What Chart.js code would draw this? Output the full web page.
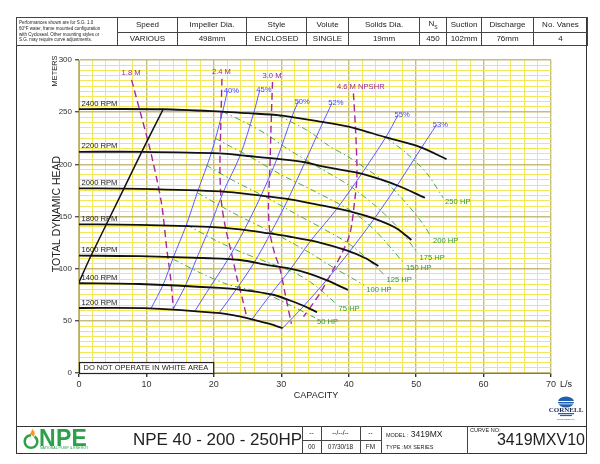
<!DOCTYPE html>
<html><head><meta charset="utf-8">
<script src="https://cdn.jsdelivr.net/npm/chart.js@4.4.1/dist/chart.umd.min.js"></script>
<style>
html,body{margin:0;padding:0;background:#fff;}
body{width:600px;height:464px;position:relative;overflow:hidden;font-family:"Liberation Sans",Arial,sans-serif;color:#222;}
#c{position:absolute;left:0;top:0;}
.abs{position:absolute;}
.frame{left:16px;top:17px;width:571px;height:437px;border:1.5px solid #333;box-sizing:border-box;}
table.hdr{position:absolute;left:16px;top:17px;width:571px;height:28px;border-collapse:collapse;table-layout:fixed;}
table.hdr td{border:1px solid #444;text-align:center;font-size:8px;padding:0;line-height:1;white-space:nowrap;overflow:hidden;}
table.hdr td.note{font-size:4.5px;line-height:5.8px;text-align:left;padding-left:2px;}
.hline{height:0;border-top:1.2px solid #333;}
.vline{width:0;border-left:1px solid #444;}
.t{white-space:nowrap;line-height:1;}
</style>
</head><body>
<canvas id="c" width="600" height="464"></canvas>

<div class="abs frame"></div>
<table class="hdr">
<colgroup><col style="width:101px"><col style="width:60px"><col style="width:69px"><col style="width:60px"><col style="width:42px"><col style="width:71px"><col style="width:27px"><col style="width:35px"><col style="width:52px"><col style="width:54px"></colgroup>
<tr style="height:15px"><td class="note" rowspan="2">Performances shown are for S.G. 1.0<br>60°F water, frame mounted configuration<br>with Cycloseal. Other mounting styles or<br>S.G. may require curve adjustments.</td>
<td>Speed</td><td>Impeller Dia.</td><td>Style</td><td>Volute</td><td>Solids Dia.</td><td>N<sub style="font-size:5px">S</sub></td><td>Suction</td><td>Discharge</td><td>No. Vanes</td></tr>
<tr style="height:13px"><td>VARIOUS</td><td>498mm</td><td>ENCLOSED</td><td>SINGLE</td><td>19mm</td><td>450</td><td>102mm</td><td>76mm</td><td>4</td></tr>
</table>

<!-- footer -->
<div class="abs hline" style="left:16px;top:426px;width:571px;"></div>
<div class="abs vline" style="left:302px;top:426px;height:28px;"></div>
<div class="abs vline" style="left:321px;top:426px;height:28px;"></div>
<div class="abs vline" style="left:360px;top:426px;height:28px;"></div>
<div class="abs vline" style="left:381px;top:426px;height:28px;"></div>
<div class="abs vline" style="left:467px;top:426px;height:28px;"></div>
<div class="abs" style="left:302px;top:440px;width:79px;height:0;border-top:1px solid #444;"></div>

<svg class="abs" style="left:22px;top:428px" width="18" height="22" viewBox="0 0 18 22">
  <path d="M9 6 C4 6 1.5 10 1.5 13.5 C1.5 18 5 21 9 21 C13 21 16.5 18 16.5 13.5 C16.5 11 15 8.5 13 7.3 L12 10 C13.5 11 14 12.5 14 13.8 C14 16.8 11.8 18.6 9 18.6 C6.2 18.6 4 16.6 4 13.6 C4 10.8 6 8.5 9 8.4 Z" fill="#2ca14a"/>
  <path d="M10 1 C13 3 13.5 6 11.5 9 C10.5 7.5 9 6.5 8 6.5 C8.5 4.5 10 3 10 1 Z" fill="#f39a1f"/>
</svg>
<div class="abs t" style="left:39px;top:427px;font-size:23px;font-weight:bold;color:#2ca14a;letter-spacing:0.3px;">NPE</div>
<div class="abs t" style="left:40px;top:447px;font-size:3.6px;color:#2ca14a;">NATIONAL PUMP &amp; ENERGY</div>
<div class="abs t" style="left:130px;top:431px;width:175px;text-align:center;font-size:17px;color:#222;">NPE 40 - 200 - 250HP</div>
<div class="abs t" style="left:302px;top:430px;width:19px;text-align:center;font-size:6.5px;">--</div>
<div class="abs t" style="left:321px;top:430px;width:39px;text-align:center;font-size:6.5px;">--/--/--</div>
<div class="abs t" style="left:360px;top:430px;width:21px;text-align:center;font-size:6.5px;">--</div>
<div class="abs t" style="left:302px;top:444px;width:19px;text-align:center;font-size:6.5px;">00</div>
<div class="abs t" style="left:321px;top:444px;width:39px;text-align:center;font-size:6.5px;">07/30/18</div>
<div class="abs t" style="left:360px;top:444px;width:21px;text-align:center;font-size:6.5px;">FM</div>
<div class="abs t" style="left:386px;top:430px;font-size:8.5px;"><span style="font-size:5.5px">MODEL :</span> 3419MX</div>
<div class="abs t" style="left:386px;top:445px;font-size:5.5px;">TYPE :MX SERIES</div>
<div class="abs t" style="left:470px;top:428px;font-size:5.5px;">CURVE NO:</div>
<div class="abs t" style="left:490px;top:432px;width:95px;text-align:right;font-size:16px;">3419MXV10</div>

<svg class="abs" style="left:546px;top:396px" width="40" height="28" viewBox="0 0 40 28">
  <ellipse cx="20" cy="6" rx="8" ry="5.5" fill="#1f5fae"/>
  <rect x="11" y="5" width="18" height="1" fill="#fff"/>
  <rect x="11" y="7.5" width="18" height="0.8" fill="#fff"/>
  <text x="20" y="15.5" text-anchor="middle" font-family="Liberation Serif, serif" font-weight="bold" font-size="7" fill="#1a2a5a">CORNELL</text>
  <rect x="12" y="17" width="16" height="1.3" fill="#1f5fae"/>
  <rect x="14" y="19" width="12" height="1.1" fill="#1f5fae"/>
  <text x="20" y="24" text-anchor="middle" font-family="Liberation Sans, sans-serif" font-size="2.2" fill="#1a2a5a">PUMP COMPANY</text>
</svg>

<script>
const FONT = '"Liberation Sans", Arial, sans-serif';

// ---- axis ticks ----
const xTickLabels = [0, 10, 20, 30, 40, 50, 60, 70];
const yTickLabels = [0, 50, 100, 150, 200, 250, 300];

// ---- speed (RPM) curves: capacity L/s, head m ----
const rpmNames = ['2400 RPM', '2200 RPM', '2000 RPM', '1800 RPM', '1600 RPM', '1400 RPM', '1200 RPM'];
const q2400 = [0, 12.5, 21.2, 25, 29.8, 35.7, 40.7, 45.4, 50.6, 54.5];
const h2400 = [253, 252.8, 250.5, 249, 247, 241, 235, 226, 216.5, 205];
const q2200 = [0, 9.3, 20.9, 25, 29.8, 33.5, 35.7, 41.2, 44.5, 47.5, 51.3];
const h2200 = [212, 212, 210.5, 208, 205, 202, 198.5, 192, 186, 179, 168];
const q2000 = [0, 9, 21, 27, 31.3, 35.7, 40.7, 43.8, 47, 49.3];
const h2000 = [177, 176.5, 174, 170, 166.5, 161, 154, 148, 139, 127.5];
const q1800 = [0, 9, 19.4, 23.9, 28, 31.3, 35.7, 39.7, 42.5, 44.4];
const h1800 = [142.5, 142, 140, 137.7, 134, 130.6, 125, 117.5, 110, 102.6];
const q1600 = [0, 9, 19.4, 23.9, 28, 31.3, 34, 36.7, 39.9];
const h1600 = [112.5, 112, 110, 108.3, 103.5, 100, 95.5, 89, 79.6];
const q1400 = [0, 9, 20.9, 25, 28.8, 31.3, 33.3, 35.3];
const h1400 = [86, 85.3, 81.5, 79, 75, 69.5, 64.5, 58.2];
const q1200 = [0, 10.5, 20.9, 24, 26.2, 28.3, 30.2];
const h1200 = [62.3, 62, 57.3, 54, 50.5, 47, 43];

// ---- minimum-flow limit line ----
const qLimit = [0, 1.6, 6.6, 9.3, 12.5];
const hLimit = [87, 110, 176, 212, 253];

// ---- efficiency lines ----
const effNames = ['40%', '45%', '50%', '52%', '55%', '53%'];
const qE40 = [10.7, 12.5, 14, 15.9, 17.6, 19.6, 21.3, 22];
const hE40 = [62, 85, 111, 141.5, 174, 210.5, 250.5, 270];
const qE45 = [14, 15.8, 17.4, 19.4, 21.4, 23.9, 25.9, 26.8];
const hE45 = [61.5, 84, 109, 140, 173.5, 208.5, 249, 271];
const qE50 = [17.2, 19.5, 22, 24.5, 27, 29.4, 31.6, 32.5];
const hE50 = [59.5, 83, 108, 137, 170, 206, 246, 260];
const qE52 = [20.8, 23.3, 26, 28.5, 31, 33.5, 36.2, 37.5];
const hE52 = [57.7, 80, 106, 135, 166.5, 202, 240.5, 258.5];
const qE55 = [25.6, 28.5, 31.3, 34.4, 38.2, 41.9, 45.5, 47.3];
const hE55 = [51, 76, 99, 127, 157, 190.8, 226, 247];
const qE53 = [30.2, 33.3, 36.7, 40.2, 43.8, 47, 50.8, 53];
const hE53 = [43, 64, 89, 117, 148, 178, 216, 237.7];

// ---- power lines ----
const hpNames = ['250 HP', '200 HP', '175 HP', '150 HP', '125 HP', '100 HP', '75 HP', '50 HP'];
const qP250 = [45.5, 48.5, 51.5, 54];
const hP250 = [226, 211, 192, 168];
const qP200 = [29.5, 34, 37, 40, 43, 45.5, 48.5, 51, 52.2];
const hP200 = [247, 232, 218, 207, 194, 183, 163, 143, 131];
const qP175 = [21.3, 25, 28, 31, 35.3, 40, 44, 47.5, 50.2];
const hP175 = [250.5, 239, 228, 214.5, 198, 180, 160, 138, 115];
const qP150 = [20.2, 22.5, 25.3, 30, 35, 40.7, 44, 46.5, 48.2];
const hP150 = [225, 217, 207.5, 190, 174, 154, 136, 118, 105];
const qP125 = [18.9, 23, 27.6, 32, 36, 40, 43, 45.3];
const hP125 = [199, 184, 169, 153, 139, 124, 108, 94];
const qP100 = [17.6, 23, 29.2, 34, 38, 40.5, 42.3];
const hP100 = [172.5, 153, 133, 116, 100, 91, 84];
const qP75 = [16, 20, 24, 28, 32, 35, 38.2];
const hP75 = [142, 128, 116, 106, 96, 84, 66];
const qP50 = [14, 18, 22, 27.3, 31, 35];
const hP50 = [109, 96, 85, 76.8, 66, 53];

// ---- NPSHR lines ----
const npshNames = ['1.8 M', '2.4 M', '3.0 M', '4.6 M NPSHR'];
const qN18 = [7.8, 9, 10.4, 11.5, 12.3, 13, 13.6, 14];
const hN18 = [281, 252, 218, 187, 160, 120, 90, 62];
const qN24 = [21.2, 21, 20.9, 21.1, 21.7, 22.5, 23.4, 24.2, 24.9];
const hN24 = [282, 230, 195, 165, 140, 118, 92, 72, 53];
const qN30 = [28.7, 28.5, 28.3, 28.1, 28.3, 29, 29.8, 30.6, 31.5];
const hN30 = [279, 240, 195, 160, 135, 115, 100, 75, 47];
const qN46 = [40.7, 41, 41.2, 41.2, 40.9, 40.2, 39, 37.7, 35.7, 33.3];
const hN46 = [268, 235, 204, 185, 166, 134, 115, 99, 76, 54];

// ---- build datasets ----
const pts = (q, h) => q.map((v, i) => ({ x: v, y: h[i] }));
const base = { showLine: true, pointRadius: 0, pointHoverRadius: 0, fill: false };
const datasets = [];
[[q2400, h2400], [q2200, h2200], [q2000, h2000], [q1800, h1800], [q1600, h1600], [q1400, h1400], [q1200, h1200]]
  .forEach((s, i) => datasets.push({ ...base, kind: 'rpm', name: rpmNames[i], data: pts(s[0], s[1]),
    borderColor: '#111', borderWidth: 1.8, tension: 0.3 }));
datasets.push({ ...base, kind: 'limit', data: pts(qLimit, hLimit), borderColor: '#111', borderWidth: 1.5, tension: 0.15 });
[[qE40, hE40], [qE45, hE45], [qE50, hE50], [qE52, hE52], [qE55, hE55], [qE53, hE53]]
  .forEach((s, i) => datasets.push({ ...base, kind: 'eff', name: effNames[i], data: pts(s[0], s[1]),
    borderColor: '#5a5aff', borderWidth: 1, tension: 0.3 }));
[[qN18, hN18], [qN24, hN24], [qN30, hN30], [qN46, hN46]]
  .forEach((s, i) => datasets.push({ ...base, kind: 'npsh', name: npshNames[i], data: pts(s[0], s[1]),
    borderColor: '#a22aa0', borderWidth: 1.4, borderDash: [7, 4], tension: 0.3 }));
[[qP250, hP250], [qP200, hP200], [qP175, hP175], [qP150, hP150], [qP125, hP125], [qP100, hP100], [qP75, hP75], [qP50, hP50]]
  .forEach((s, i) => datasets.push({ ...base, kind: 'hp', name: hpNames[i], data: pts(s[0], s[1]),
    borderColor: '#4aab4a', borderWidth: 1, borderDash: [6, 3, 1.5, 3], tension: 0.3 }));

const MINOR = '#f3e75a', MAJOR = '#c6bd7c';

const annot = {
  id: 'annot',
  afterDatasetsDraw(chart) {
    const { ctx, scales: { x, y } } = chart;
    ctx.save();
    const bx0 = x.getPixelForValue(0), bx1 = x.getPixelForValue(19.9);
    const by0 = y.getPixelForValue(10.5), by1 = y.getPixelForValue(0);
    ctx.fillStyle = '#fff';
    ctx.fillRect(bx0, by0, bx1 - bx0, by1 - by0);
    ctx.strokeStyle = '#222'; ctx.lineWidth = 1.2;
    ctx.strokeRect(bx0 + 0.5, by0 + 0.5, bx1 - bx0, by1 - by0);
    ctx.fillStyle = '#222';
    ctx.font = '7.5px ' + FONT;
    ctx.textBaseline = 'middle'; ctx.textAlign = 'left';
    ctx.fillText('DO NOT OPERATE IN WHITE AREA', bx0 + 4.5, (by0 + by1) / 2 + 0.5);

    ctx.font = '7.6px ' + FONT;
    chart.data.datasets.forEach(d => {
      const first = d.data[0], last = d.data[d.data.length - 1];
      if (d.kind === 'rpm') {
        ctx.fillStyle = '#222';
        ctx.fillText(d.name, x.getPixelForValue(first.x) + 2.5, y.getPixelForValue(first.y) - 5.5);
      } else if (d.kind === 'eff') {
        ctx.fillStyle = '#4848f0';
        ctx.fillText(d.name, x.getPixelForValue(last.x) - 3.5, y.getPixelForValue(last.y));
      } else if (d.kind === 'hp') {
        ctx.fillStyle = '#2f9a2f';
        ctx.fillText(d.name, x.getPixelForValue(last.x) + 2, y.getPixelForValue(last.y) + 4.5);
      } else if (d.kind === 'npsh') {
        ctx.fillStyle = '#9a2a98';
        const shift = d.name.length > 6 ? 16.5 : 10;
        ctx.fillText(d.name, x.getPixelForValue(first.x) - shift, y.getPixelForValue(first.y) - 6.5);
      }
    });
    ctx.restore();
  },
  afterDraw(chart) {
    const { ctx, chartArea: a } = chart;
    ctx.save();
    ctx.fillStyle = '#222';
    ctx.textAlign = 'center'; ctx.textBaseline = 'middle';
    ctx.font = '9px ' + FONT;
    ctx.fillText('CAPACITY', 316, 395.5);
    ctx.textAlign = 'left';
    ctx.fillText('L/s', a.right + 9, 384.5);
    ctx.save();
    ctx.translate(57.5, 214); ctx.rotate(-Math.PI / 2);
    ctx.textAlign = 'center'; ctx.font = '10.5px ' + FONT;
    ctx.fillText('TOTAL DYNAMIC HEAD', 0, 0);
    ctx.restore();
    ctx.save();
    ctx.translate(54.5, 71); ctx.rotate(-Math.PI / 2);
    ctx.textAlign = 'center'; ctx.font = '7.4px ' + FONT;
    ctx.fillText('METERS', 0, 0);
    ctx.restore();
    ctx.restore();
  }
};

new Chart(document.getElementById('c'), {
  type: 'scatter',
  data: { datasets },
  options: {
    responsive: false, animation: false, events: [],
    plugins: { legend: { display: false }, tooltip: { enabled: false } },
    layout: { padding: { left: 0, right: 49, top: 60, bottom: 71 } },
    scales: {
      x: {
        type: 'linear', min: 0, max: 70,
        afterFit(s) { s.height = 20; },
        ticks: { stepSize: 2, autoSkip: false, maxRotation: 0, padding: 2, color: '#333',
          font: { size: 9, family: FONT },
          callback: v => xTickLabels.includes(v) ? String(v) : '' },
        grid: {
          color: c => (c.tick && c.tick.value % 10 === 0) ? MAJOR : MINOR,
          lineWidth: c => (c.tick && c.tick.value % 10 === 0) ? 1.4 : 1,
          tickLength: 4,
          tickColor: c => (c.tick && c.tick.value % 10 === 0) ? '#333' : 'rgba(0,0,0,0)'
        },
        border: { display: true, color: '#777', width: 1 }
      },
      y: {
        type: 'linear', min: 0, max: 300,
        afterFit(s) { s.width = 79; },
        ticks: { stepSize: 5, autoSkip: false, padding: 3, color: '#333',
          font: { size: 8, family: FONT },
          callback: v => yTickLabels.includes(v) ? String(v) : '' },
        grid: {
          color: c => (c.tick && c.tick.value % 50 === 0) ? MAJOR : MINOR,
          lineWidth: c => (c.tick && c.tick.value % 50 === 0) ? 1.4 : 1,
          tickLength: 4,
          tickColor: c => (c.tick && c.tick.value % 50 === 0) ? '#555' : 'rgba(0,0,0,0)'
        },
        border: { display: true, color: '#b5ad70', width: 1 }
      }
    }
  },
  plugins: [annot]
});
</script>
</body></html>
